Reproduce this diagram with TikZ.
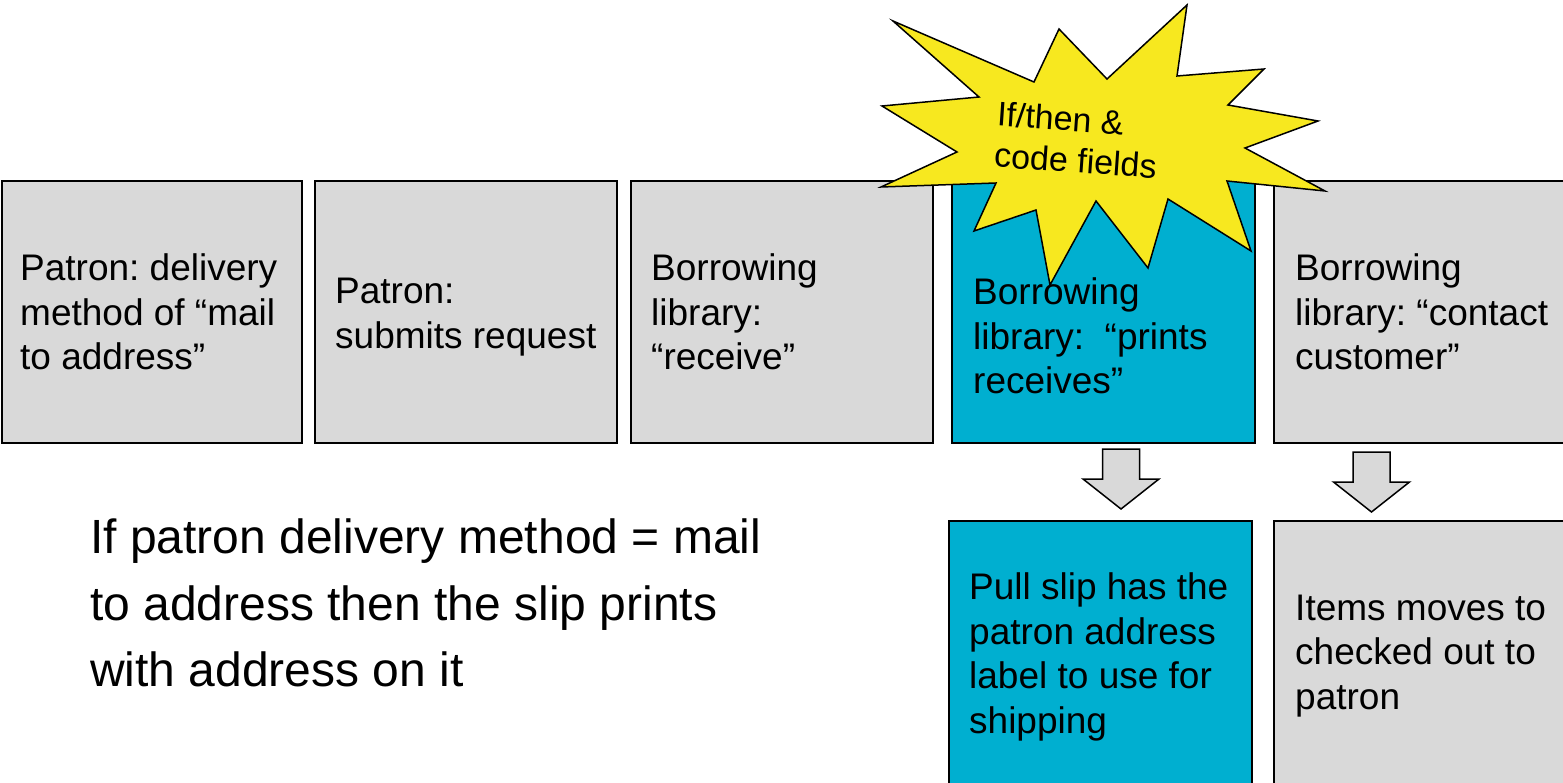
\documentclass[tikz,border=0pt]{standalone}
\usepackage{fontspec}
\setmainfont{Liberation Sans}
\definecolor{boxgray}{HTML}{D9D9D9}
\definecolor{boxblue}{HTML}{00AFD0}
\definecolor{staryellow}{HTML}{F7E81F}
\frenchspacing
\begin{document}
\begin{tikzpicture}[x=1pt,y=-1pt,
  box/.style={draw=black, line width=1.5pt, inner sep=0pt, minimum height=262pt},
  graybox/.style={box, fill=boxgray},
  bluebox/.style={box, fill=boxblue},
  boxtext/.style={font=\fontsize{37}{44.5}\selectfont, align=left, anchor=west, inner sep=0pt},
  bigtext/.style={font=\fontsize{48}{66.5}\selectfont, align=left, anchor=west, inner sep=0pt},
  startext/.style={font=\fontsize{34}{41}\selectfont, align=left, inner sep=0pt, rotate=-4},
  blockarrow/.style={draw=black, line width=1.5pt, fill=boxgray, line join=miter},
  downarrow/.pic={\draw[blockarrow] (-18.5,0) -- (18.5,0) -- (18.5,30) -- (38,30) -- (0,60) -- (-38,30) -- (-18.5,30) -- cycle;}
]
\clip (0,0) rectangle (1563,783);
\fill[white] (0,0) rectangle (1563,783);

% top row
\node[graybox, minimum width=300pt] (b1) at (152,312) {};
\node[graybox, minimum width=302pt] (b2) at (466,312) {};
\node[graybox, minimum width=302pt] (b3) at (782,312) {};
\node[bluebox, minimum width=303pt] (b4) at (1103.5,312) {};
\node[graybox, minimum width=306pt] (b5) at (1427,312) {};
% bottom row
\node[bluebox, minimum width=303pt, minimum height=279pt] (b6) at (1100.5,660.5) {};
\node[graybox, minimum width=306pt, minimum height=279pt] (b7) at (1427,660.5) {};

\node[boxtext] (t1) at (20,312) {Patron: delivery\\method of “mail\\to address”};
\node[boxtext] (t2) at (335,317) {Patron:\\submits request};
\node[boxtext] (t3) at (651,312) {Borrowing\\library:\\“receive”};
\node[boxtext] (t5) at (1295,312) {Borrowing\\library: “contact\\customer”};
\node[boxtext] (t6) at (969,657) {Pull slip has the\\patron address\\label to use for\\shipping};
\node[boxtext] (t7) at (1295,656) {Items moves to\\checked out to\\patron};

% block arrows
\coordinate (a1) at (1121,449);
\coordinate (a2) at (1371.5,452);
\pic at (a1) {downarrow};
\pic at (a2) {downarrow};

% starburst
\draw[fill=staryellow, line width=1.5pt, line join=miter] (893,21) -- (1034,82) -- (1059,29) -- (1107,79) -- (1187,5) -- (1177,76) -- (1264,69) -- (1228,105) -- (1318,121) -- (1245,148) -- (1325,191) -- (1227,181) -- (1251,251) -- (1168,199) -- (1148,268) -- (1096,201) -- (1050,285) -- (1036,210) -- (974,231) -- (996,183) -- (881,187) -- (957,152) -- (882,106) -- (979,97) -- cycle;
\node[startext] (st) at (1077,140) {If/then \&\\code fields};

\node[boxtext] (t4) at (973,336) {Borrowing\\library:\ \ “prints\\receives”};

\node[bigtext] (note) at (90,603) {If patron delivery method = mail\\to address then the slip prints\\with address on it};
\end{tikzpicture}
\end{document}
